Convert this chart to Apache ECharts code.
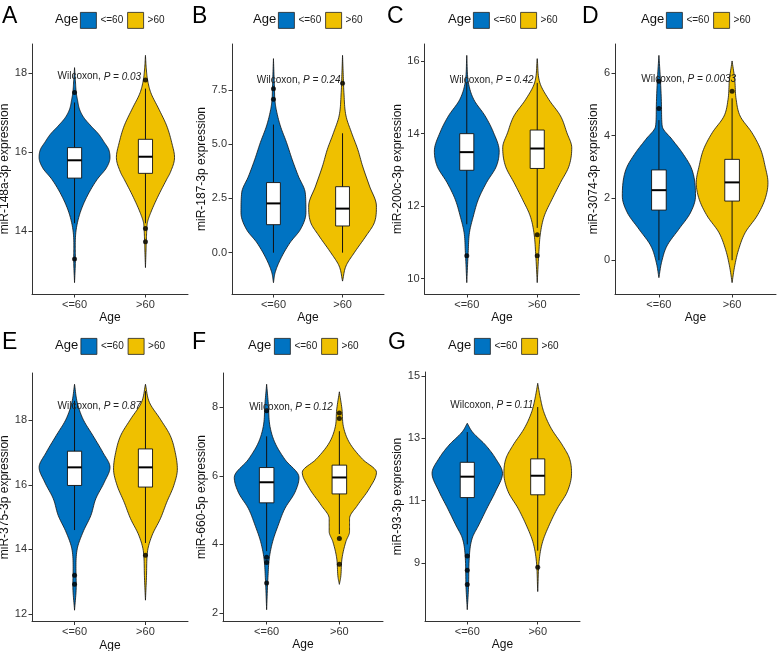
<!DOCTYPE html>
<html>
<head>
<meta charset="utf-8">
<script src="https://cdn.jsdelivr.net/npm/echarts@6/dist/echarts.min.js"></script>
<style>html,body{margin:0;padding:0;background:#fff;}#chart{width:777px;height:651px;}</style>
</head>
<body>
<div id="chart"></div>
<script>
// ---------------- data ----------------
const categories = ['<=60', '>60'];
const genes = ['miR-148a-3p', 'miR-187-3p', 'miR-200c-3p', 'miR-3074-3p', 'miR-375-3p', 'miR-660-5p', 'miR-93-3p'];
const panelLetters = ['A', 'B', 'C', 'D', 'E', 'F', 'G'];
const pValues = ['0.03', '0.24', '0.42', '0.0033', '0.87', '0.12', '0.11'];

const yTicksA = [14, 16, 18];
const yTicksB = [0, 2.5, 5, 7.5];
const yTicksC = [10, 12, 14, 16];
const yTicksD = [0, 2, 4, 6];
const yTicksE = [12, 14, 16, 18];
const yTicksF = [2, 4, 6, 8];
const yTicksG = [9, 11, 13, 15];

// violin profiles: [expression value, half width (category units)]
const violinA_le60 = [[12.70,0],[13.3,0.012],[13.63,0.01],[14.05,0.024],[14.47,0.08],[14.89,0.18],[15.31,0.32],[15.6,0.45],[15.86,0.5],[16.07,0.48],[16.24,0.42],[16.45,0.34],[16.66,0.23],[16.87,0.13],[17.08,0.07],[17.33,0.04],[17.5,0.024],[17.8,0.012],[18.13,0]];
const violinA_gt60 = [[13.08,0],[13.5,0.008],[13.73,0.012],[14.07,0.02],[14.22,0.028],[14.47,0.075],[14.89,0.18],[15.31,0.3],[15.48,0.35],[15.86,0.41],[16.24,0.37],[16.66,0.3],[17.08,0.19],[17.5,0.075],[17.82,0.03],[18.1,0.012],[18.44,0]];
const violinB_le60 = [[-1.38,0],[-0.92,0.024],[-0.31,0.1],[0.46,0.24],[1.07,0.39],[1.84,0.47],[2.76,0.46],[3.53,0.36],[4.3,0.27],[5.07,0.19],[5.84,0.1],[6.6,0.04],[7.07,0.02],[7.55,0.015],[8.2,0.008],[8.94,0]];
const violinB_gt60 = [[-1.31,0],[-0.61,0.05],[0,0.17],[0.77,0.34],[1.38,0.46],[2.15,0.49],[3.07,0.39],[3.99,0.29],[4.76,0.22],[5.53,0.13],[6.3,0.05],[7.37,0.02],[8.2,0.01],[9.09,0]];
const violinC_le60 = [[9.89,0],[10.72,0.02],[11.27,0.038],[11.73,0.094],[12.19,0.165],[12.65,0.28],[13.1,0.42],[13.52,0.46],[14.03,0.38],[14.49,0.26],[14.94,0.1],[15.4,0.024],[16.16,0]];
const violinC_gt60 = [[9.89,0],[10.62,0.02],[11.27,0.047],[11.73,0.1],[12.19,0.21],[12.65,0.33],[13.1,0.45],[13.61,0.49],[14.03,0.42],[14.49,0.33],[14.94,0.165],[15.4,0.038],[16.07,0]];
const violinD_le60 = [[-0.56,0],[-0.07,0.036],[0.46,0.11],[0.99,0.27],[1.52,0.43],[2.06,0.5],[2.92,0.45],[3.45,0.32],[3.88,0.18],[4.31,0.045],[4.84,0.036],[5.7,0.023],[6.58,0]];
const violinD_gt60 = [[-0.72,0],[-0.18,0.036],[0.35,0.09],[0.89,0.18],[1.42,0.34],[1.96,0.45],[2.49,0.49],[3.03,0.45],[3.56,0.39],[4.1,0.27],[4.63,0.11],[5.17,0.055],[5.81,0.036],[6.4,0]];
const violinE_le60 = [[12.12,0],[12.89,0.024],[13.41,0.02],[14.02,0.038],[14.54,0.12],[15.05,0.23],[15.57,0.3],[16.08,0.42],[16.54,0.5],[17.0,0.4],[17.52,0.26],[18.03,0.12],[18.55,0.038],[19.11,0]];
const violinE_gt60 = [[12.43,0],[13.2,0.015],[13.92,0.028],[14.44,0.094],[14.95,0.21],[15.46,0.3],[15.98,0.4],[16.49,0.45],[17.0,0.42],[17.52,0.35],[18.03,0.21],[18.55,0.056],[19.11,0]];
const violinF_le60 = [[2.09,0],[3.03,0.018],[3.6,0.037],[4.08,0.083],[4.56,0.16],[5.04,0.25],[5.52,0.39],[5.95,0.445],[6.48,0.25],[6.96,0.115],[7.44,0.046],[8.11,0.023],[8.67,0]];
const violinF_gt60 = [[2.83,0],[3.03,0.018],[3.6,0.037],[4.08,0.09],[4.37,0.14],[4.75,0.14],[5.14,0.25],[5.62,0.41],[6.1,0.51],[6.48,0.32],[6.96,0.14],[7.44,0.055],[7.92,0.037],[8.45,0]];
const violinG_le60 = [[7.51,0],[8.31,0.019],[9.16,0.028],[9.8,0.07],[10.23,0.165],[10.76,0.28],[11.29,0.4],[11.88,0.5],[12.36,0.4],[12.78,0.26],[13.21,0.07],[13.48,0]];
const violinG_gt60 = [[8.09,0],[9.16,0.024],[9.69,0.07],[10.23,0.165],[10.76,0.28],[11.29,0.42],[11.88,0.48],[12.36,0.45],[12.78,0.35],[13.32,0.19],[13.85,0.085],[14.28,0.038],[14.76,0]];

// box stats: [lower whisker, Q1, median, Q3, upper whisker]
const boxA_le60 = [14.2, 15.34, 15.79, 16.11, 17.25];
const boxA_gt60 = [14.2, 15.46, 15.88, 16.32, 17.6];
const boxB_le60 = [0, 1.29, 2.27, 3.23, 5.9];
const boxB_gt60 = [0, 1.23, 2.03, 3.04, 5.5];
const boxC_le60 = [11.5, 12.99, 13.49, 14.0, 15.4];
const boxC_gt60 = [11.4, 13.04, 13.59, 14.1, 15.4];
const boxD_le60 = [0, 1.61, 2.25, 2.9, 4.5];
const boxD_gt60 = [0, 1.9, 2.5, 3.24, 5.2];
const boxE_le60 = [14.6, 15.98, 16.54, 17.04, 18.6];
const boxE_gt60 = [14.2, 15.93, 16.54, 17.11, 18.9];
const boxF_le60 = [3.8, 5.21, 5.81, 6.24, 7.15];
const boxF_gt60 = [4.3, 5.47, 5.95, 6.31, 7.3];
const boxG_le60 = [9.6, 11.1, 11.77, 12.23, 13.2];
const boxG_gt60 = [9.4, 11.19, 11.8, 12.34, 14.0];

// outliers
const outA_le60 = [17.5, 13.3];
const outA_gt60 = [17.82, 14.07, 13.73];
const outB_le60 = [7.55, 7.07];
const outB_gt60 = [7.8];
const outC_le60 = [10.63];
const outC_gt60 = [11.21, 10.63];
const outD_le60 = [5.75, 4.87];
const outD_gt60 = [5.43];
const outE_le60 = [13.2, 12.92];
const outE_gt60 = [13.82];
const outF_le60 = [7.9, 3.62, 3.47, 2.87];
const outF_gt60 = [7.83, 7.67, 4.17, 3.42];
const outG_le60 = [9.23, 8.77, 8.32];
const outG_gt60 = [8.87];

// ---------------- layout / style (not data) ----------------
const COLORS = ['#0073C2', '#EFC000'];
const FONT = 'Liberation Sans, Arial, sans-serif';
const layout = [
  {left: 32, top: 44, width: 156, height: 250, legendLeft: 80, ageLeft: 55, legendTop: 12, letterLeft: 2, letterTop: 18, nameGap: 12.5, labelY: 17.9},
  {left: 232, top: 44, width: 152, height: 250, legendLeft: 278, ageLeft: 253, legendTop: 12, letterLeft: 192, letterTop: 18, nameGap: 17, labelY: 7.95},
  {left: 424.5, top: 44, width: 155, height: 250, legendLeft: 473, ageLeft: 448, legendTop: 12, letterLeft: 387, letterTop: 18, nameGap: 15.5, labelY: 15.47},
  {left: 615, top: 44, width: 161, height: 250, legendLeft: 666, ageLeft: 641, legendTop: 12, letterLeft: 582, letterTop: 18, nameGap: 9, labelY: 5.81},
  {left: 32, top: 373, width: 156, height: 248.5, legendLeft: 80.5, ageLeft: 55, legendTop: 338, letterLeft: 2, letterTop: 344, nameGap: 14, labelY: 18.44},
  {left: 223, top: 373, width: 160, height: 248, legendLeft: 274, ageLeft: 248, legendTop: 338, letterLeft: 192, letterTop: 344, nameGap: 14.5, labelY: 8.0},
  {left: 425, top: 372, width: 155, height: 249, legendLeft: 474, ageLeft: 448, legendTop: 338, letterLeft: 388, letterTop: 344, nameGap: 14, labelY: 14.06}
];

const panels = [
  {ticks: yTicksA, violins: [violinA_le60, violinA_gt60], boxes: [boxA_le60, boxA_gt60], outs: [outA_le60, outA_gt60]},
  {ticks: yTicksB, violins: [violinB_le60, violinB_gt60], boxes: [boxB_le60, boxB_gt60], outs: [outB_le60, outB_gt60], dec: 1},
  {ticks: yTicksC, violins: [violinC_le60, violinC_gt60], boxes: [boxC_le60, boxC_gt60], outs: [outC_le60, outC_gt60]},
  {ticks: yTicksD, violins: [violinD_le60, violinD_gt60], boxes: [boxD_le60, boxD_gt60], outs: [outD_le60, outD_gt60]},
  {ticks: yTicksE, violins: [violinE_le60, violinE_gt60], boxes: [boxE_le60, boxE_gt60], outs: [outE_le60, outE_gt60]},
  {ticks: yTicksF, violins: [violinF_le60, violinF_gt60], boxes: [boxF_le60, boxF_gt60], outs: [outF_le60, outF_gt60]},
  {ticks: yTicksG, violins: [violinG_le60, violinG_gt60], boxes: [boxG_le60, boxG_gt60], outs: [outG_le60, outG_gt60]}
];

// monotone cubic interpolation for a smooth violin outline (rendering only)
function monotone(xs, ys) {
  const n = xs.length, d = [], m = new Array(n);
  for (let i = 0; i < n - 1; i++) d.push((ys[i + 1] - ys[i]) / (xs[i + 1] - xs[i]));
  m[0] = d[0]; m[n - 1] = d[n - 2];
  for (let i = 1; i < n - 1; i++) m[i] = (d[i - 1] * d[i] <= 0) ? 0 : (d[i - 1] + d[i]) / 2;
  for (let i = 0; i < n - 1; i++) {
    if (d[i] === 0) { m[i] = 0; m[i + 1] = 0; continue; }
    const a = m[i] / d[i], b = m[i + 1] / d[i], s = a * a + b * b;
    if (s > 9) { const t = 3 / Math.sqrt(s); m[i] = t * a * d[i]; m[i + 1] = t * b * d[i]; }
  }
  return function (x) {
    let i = 0;
    while (i < n - 2 && x > xs[i + 1]) i++;
    const h = xs[i + 1] - xs[i], t = (x - xs[i]) / h;
    const t2 = t * t, t3 = t2 * t;
    return (2 * t3 - 3 * t2 + 1) * ys[i] + (t3 - 2 * t2 + t) * h * m[i] + (-2 * t3 + 3 * t2) * ys[i + 1] + (t3 - t2) * h * m[i + 1];
  };
}

const option = {
  animation: false,
  backgroundColor: '#fff',
  textStyle: {fontFamily: FONT},
  grid: [], xAxis: [], yAxis: [], series: [], legend: [], graphic: []
};

panels.forEach(function (p, k) {
  const L = layout[k];
  let lo = Infinity, hi = -Infinity;
  p.violins.forEach(function (v) { v.forEach(function (pt) { lo = Math.min(lo, pt[0]); hi = Math.max(hi, pt[0]); }); });
  p.outs.forEach(function (o) { o.forEach(function (v) { lo = Math.min(lo, v); hi = Math.max(hi, v); }); });
  const pad = (hi - lo) * 0.05;

  option.grid.push({left: L.left, top: L.top, width: L.width, height: L.height, containLabel: false, outerBoundsMode: 'none'});
  option.xAxis.push({
    type: 'value', gridIndex: k, min: 0.4, max: 2.6,
    name: 'Age', nameLocation: 'middle', nameGap: 18,
    nameTextStyle: {fontSize: 12, color: '#111', fontFamily: FONT},
    axisLine: {show: true, onZero: false, lineStyle: {color: '#333', width: 1}},
    axisTick: {show: true, length: 3.5, customValues: [1, 2], lineStyle: {color: '#333'}},
    axisLabel: {show: true, customValues: [1, 2], margin: 5, fontSize: 11, color: '#333', fontFamily: FONT,
      formatter: function (v) { return categories[Math.round(v) - 1] || ''; }},
    splitLine: {show: false}
  });
  option.yAxis.push({
    type: 'value', gridIndex: k, min: lo - pad, max: hi + pad,
    name: genes[k] + ' expression', nameLocation: 'middle', nameGap: L.nameGap,
    nameTextStyle: {fontSize: 12, color: '#111', fontFamily: FONT},
    axisLine: {show: true, onZero: false, lineStyle: {color: '#333', width: 1}},
    axisTick: {show: true, length: 3.5, customValues: p.ticks, lineStyle: {color: '#333'}},
    axisLabel: {show: true, customValues: p.ticks, margin: 5, fontSize: 11, color: '#333', fontFamily: FONT,
      formatter: function (v) { return p.dec ? v.toFixed(p.dec) : String(v); }},
    splitLine: {show: false}
  });

  // violins
  p.violins.forEach(function (prof, g) {
    const xs = prof.map(function (d) { return d[0]; });
    const ws = prof.map(function (d) { return d[1]; });
    const f = monotone(xs, ws);
    option.series.push({
      type: 'custom', name: categories[g], xAxisIndex: k, yAxisIndex: k,
      itemStyle: {color: COLORS[g], borderColor: '#000', borderWidth: 0.8},
      encode: {x: 0, y: 1},
      data: prof.map(function (d) { return [g + 1, d[0], d[1]]; }),
      z: 2,
      renderItem: function (params, api) {
        if (params.dataIndex !== 0) return null;
        const cx = g + 1;
        const samples = [];
        for (let i = 0; i < xs.length - 1; i++) {
          const steps = 10;
          for (let s = 0; s < steps; s++) samples.push(xs[i] + (xs[i + 1] - xs[i]) * s / steps);
        }
        samples.push(xs[xs.length - 1]);
        const left = [], right = [];
        samples.forEach(function (y) {
          const w = Math.max(0, f(y));
          left.push(api.coord([cx - w, y]));
          right.push(api.coord([cx + w, y]));
        });
        const pts = left.concat(right.reverse());
        return {type: 'polygon', shape: {points: pts}, style: {fill: COLORS[g], stroke: '#111', lineWidth: 0.8}};
      }
    });
  });

  // boxes (whisker + box + median)
  option.series.push({
    type: 'custom', xAxisIndex: k, yAxisIndex: k, z: 3,
    encode: {x: 0, y: [1, 2, 3, 4, 5]},
    data: p.boxes.map(function (b, g) { return [g + 1].concat(b); }),
    renderItem: function (params, api) {
      const x = api.value(0);
      const bw = 0.1;
      const w0 = api.coord([x, api.value(1)]), w1 = api.coord([x, api.value(5)]);
      const q1l = api.coord([x - bw, api.value(2)]), q3r = api.coord([x + bw, api.value(4)]);
      const ml = api.coord([x - bw, api.value(3)]), mr = api.coord([x + bw, api.value(3)]);
      return {type: 'group', children: [
        {type: 'line', shape: {x1: w0[0], y1: w0[1], x2: w1[0], y2: w1[1]}, style: {stroke: '#111', lineWidth: 1}},
        {type: 'rect', shape: {x: q1l[0], y: q3r[1], width: q3r[0] - q1l[0], height: q1l[1] - q3r[1]}, style: {fill: '#fff', stroke: '#111', lineWidth: 0.9}},
        {type: 'line', shape: {x1: ml[0], y1: ml[1], x2: mr[0], y2: mr[1]}, style: {stroke: '#000', lineWidth: 2}}
      ]};
    }
  });

  // outliers
  option.series.push({
    type: 'scatter', xAxisIndex: k, yAxisIndex: k, z: 4,
    symbol: 'circle', symbolSize: 5, itemStyle: {color: '#000'},
    data: p.outs.reduce(function (acc, o, g) { return acc.concat(o.map(function (v) { return [g + 1, v]; })); }, [])
  });

  // Wilcoxon label
  option.series.push({
    type: 'custom', xAxisIndex: k, yAxisIndex: k, z: 5,
    data: [[0.76, L.labelY]],
    renderItem: function (params, api) {
      const c = api.coord([api.value(0), api.value(1)]);
      return {type: 'text', x: c[0], y: c[1], style: {
        text: '{a|Wilcoxon, }{b|P = ' + pValues[k] + '}',
        verticalAlign: 'middle', align: 'left',
        rich: {a: {fontSize: 10, fill: '#222', fontFamily: FONT}, b: {fontSize: 10, fill: '#222', fontStyle: 'italic', fontFamily: FONT}}
      }};
    }
  });

  option.legend.push({
    left: L.legendLeft, top: L.legendTop, orient: 'horizontal',
    data: categories, selectedMode: false, itemWidth: 16, itemHeight: 16, itemGap: 4, padding: 0,
    icon: 'rect',
    itemStyle: {borderColor: '#222', borderWidth: 0.8},
    textStyle: {fontSize: 10, color: '#222', fontFamily: FONT, padding: [0, 0, 0, -1]}
  });

  option.graphic.push({type: 'text', left: L.ageLeft, top: L.legendTop + 1, style: {text: 'Age', fontSize: 13, fill: '#111', fontFamily: FONT}});
  option.graphic.push({type: 'text', left: L.letterLeft, top: L.letterTop - 13, style: {text: panelLetters[k], fontSize: 23, fill: '#000', fontFamily: FONT}});
});

const chart = echarts.init(document.getElementById('chart'), null, {renderer: 'canvas'});
chart.setOption(option);
</script>
</body>
</html>
